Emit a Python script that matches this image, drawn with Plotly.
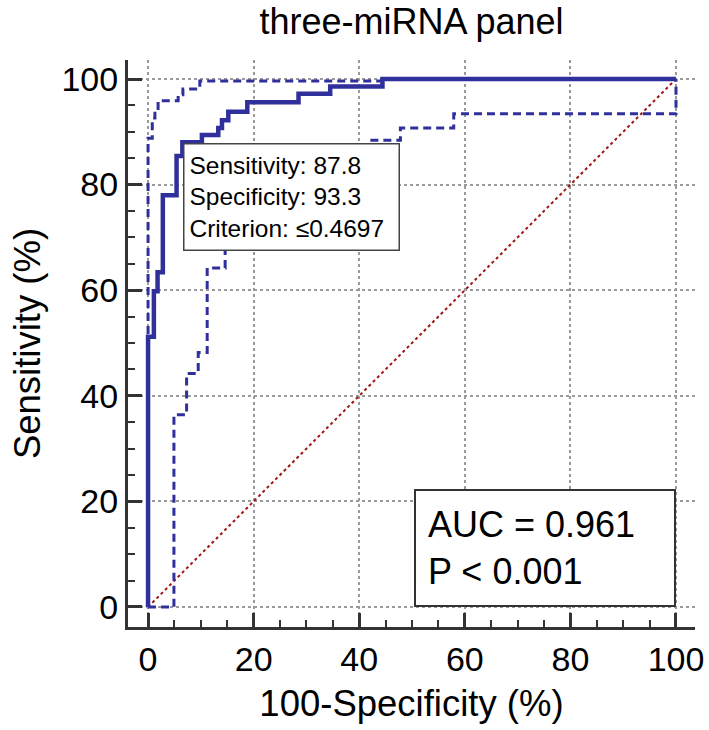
import plotly.graph_objects as go

# ROC curve (100-Specificity, Sensitivity), step corners
roc_fpr = [0, 0, 1.1, 1.1, 1.8, 1.8, 2.8, 2.8, 5.4, 5.4, 6.5, 6.5, 10.2, 10.2, 13.3, 13.3,
           14.0, 14.0, 15.2, 15.2, 18.8, 18.8, 28.5, 28.5, 34.5, 34.5, 44.4, 44.4, 100]
roc_tpr = [0, 51.2, 51.2, 59.8, 59.8, 63.4, 63.4, 78.0, 78.0, 85.4, 85.4, 88.0, 88.0, 89.4, 89.4, 90.7,
           90.7, 92.2, 92.2, 93.8, 93.8, 95.6, 95.6, 97.2, 97.2, 98.6, 98.6, 100, 100]

# Upper 95% confidence bound
ci_up_fpr = [0, 0, 0.8, 0.8, 1.3, 1.3, 1.9, 1.9, 5.7, 5.7, 6.6, 6.6, 9.8, 9.8, 44.4, 44.4, 100]
ci_up_tpr = [0, 88.8, 88.8, 92.6, 92.6, 94.1, 94.1, 95.9, 95.9, 97.0, 97.0, 98.1, 98.1, 99.6, 99.6, 100, 100]

# Lower 95% confidence bound
ci_lo_fpr = [0, 4.9, 4.9, 7.3, 7.3, 9.5, 9.5, 11.2, 11.2, 14.6, 14.6, 28, 28, 42, 42,
             47.8, 47.8, 57.9, 57.9, 100, 100]
ci_lo_tpr = [0, 0, 36.4, 36.4, 44.2, 44.2, 48.2, 48.2, 64.2, 64.2, 75, 75, 83, 83, 88.4,
             88.4, 90.7, 90.7, 93.4, 93.4, 100]

diag = [0, 100]

criterion_sens = 87.8
criterion_spec = 93.3
criterion_value = "≤0.4697"
auc_value = "0.961"
p_value = "&lt; 0.001"

tick_vals = [0, 20, 40, 60, 80, 100]
title_text = "three-miRNA panel"
x_title = "100-Specificity (%)"
y_title = "Sensitivity (%)"

FONT = "Liberation Sans, Arial, sans-serif"
BLUE = "#30309c"

fig = go.Figure()
fig.add_trace(go.Scatter(x=diag, y=diag, mode="lines",
                         line=dict(color="#a01414", width=2, dash="dot"), hoverinfo="skip"))
fig.add_trace(go.Scatter(x=ci_up_fpr, y=ci_up_tpr, mode="lines",
                         line=dict(color=BLUE, width=3, dash="8px,5px")))
fig.add_trace(go.Scatter(x=ci_lo_fpr, y=ci_lo_tpr, mode="lines",
                         line=dict(color=BLUE, width=3, dash="8px,5px")))
fig.add_trace(go.Scatter(x=roc_fpr, y=roc_tpr, mode="lines",
                         line=dict(color=BLUE, width=4.5)))

axis_common = dict(
    tickvals=tick_vals, ticks="inside", ticklen=14, tickwidth=3, tickcolor="#333",
    minor=dict(dtick=5, ticks="inside", ticklen=7, tickwidth=2, tickcolor="#333", showgrid=False),
    showline=True, linecolor="#333", linewidth=3,
    showgrid=True, gridcolor="#9a9a9a", gridwidth=1.5, griddash="dot",
    zeroline=False, range=[-3.8, 103.6], automargin=False,
    tickfont=dict(family=FONT, size=34, color="black"),
)

fig.update_xaxes(**axis_common,
                 title=dict(text=x_title, font=dict(family=FONT, size=36.5, color="black"), standoff=14))
fig.update_yaxes(**axis_common,
                 title=dict(text=y_title, font=dict(family=FONT, size=36.5, color="black"), standoff=10))

fig.add_annotation(
    x=100 - criterion_spec, y=criterion_sens, xref="x", yref="y",
    xanchor="left", yanchor="top", showarrow=False, align="left",
    text=f"Sensitivity: {criterion_sens}<br>Specificity: {criterion_spec}<br>Criterion: {criterion_value}",
    font=dict(family=FONT, size=24.5, color="black"),
    bgcolor="white", bordercolor="#444", borderwidth=1.5, borderpad=5,
    width=204, height=95,
)
fig.add_annotation(
    x=100, y=0, xref="x", yref="y",
    xanchor="right", yanchor="bottom", showarrow=False, align="left",
    text=f"AUC = {auc_value}<br>P {p_value}",
    font=dict(family=FONT, size=36, color="black"),
    bgcolor="white", bordercolor="#333", borderwidth=2, borderpad=12,
    width=234, height=90,
)

fig.update_layout(
    width=709, height=730,
    margin=dict(l=128, r=14, t=60, b=103),
    paper_bgcolor="white", plot_bgcolor="white",
    showlegend=False,
    title=dict(text=title_text, x=0.5, xref="paper", y=0.988, yref="container",
               xanchor="center", yanchor="top", automargin=False,
               font=dict(family=FONT, size=36, color="black")),
)

# remove the browser's default page margin so the figure sits at the window origin
fig.write_html("out.html", config={"displayModeBar": False},
               post_script="document.body.style.margin='0';")
